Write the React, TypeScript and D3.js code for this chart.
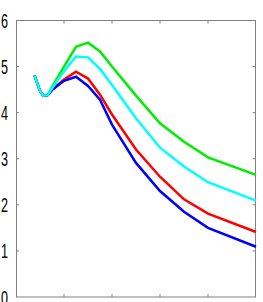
import { useEffect, useRef } from "react";
import * as d3 from "d3";

// x positions shared by all series
const xs = [0.385, 0.5, 0.57, 0.66, 0.75, 1.0, 1.25, 1.5, 1.75, 2.0, 2.5, 3.0, 3.5, 4.0, 5.0];
const green = [4.81, 4.47, 4.37, 4.38, 4.56, 5.0, 5.43, 5.52, 5.33, 5.0, 4.37, 3.77, 3.37, 3.03, 2.65];
const cyan = [4.81, 4.47, 4.37, 4.38, 4.53, 4.9, 5.22, 5.2, 4.95, 4.6, 3.88, 3.24, 2.83, 2.49, 2.09];
const red = [4.81, 4.47, 4.37, 4.38, 4.5, 4.72, 4.89, 4.74, 4.39, 3.96, 3.2, 2.61, 2.12, 1.81, 1.41];
const blue = [4.81, 4.47, 4.37, 4.38, 4.49, 4.69, 4.78, 4.58, 4.28, 3.74, 2.91, 2.3, 1.85, 1.5, 1.09];
const yTicks = [0, 1, 2, 3, 4, 5, 6];
const xTicks = [0, 1, 2, 3, 4, 5];

export default function App() {
    const ref = useRef<SVGSVGElement>(null);

    useEffect(() => {
        const svg = d3.select(ref.current);
        svg.selectAll("*").remove();

        const x = d3.scaleLinear().domain([0, 5]).range([16, 256]);
        const y = d3.scaleLinear().domain([0, 6]).range([297, 20.5]);
        const axisColor = "#808080";

        // box around the plot
        svg.append("rect")
            .attr("x", x(0) + 0.5)
            .attr("y", y(6))
            .attr("width", x(5) - x(0) - 1)
            .attr("height", y(0) - y(6))
            .attr("fill", "none")
            .attr("stroke", axisColor)
            .attr("stroke-width", 1);

        // inward ticks on all four sides
        const tl = 3;
        xTicks.slice(1, -1).forEach(t => {
            svg.append("line").attr("x1", x(t)).attr("x2", x(t))
                .attr("y1", y(0)).attr("y2", y(0) - tl).attr("stroke", axisColor);
            svg.append("line").attr("x1", x(t)).attr("x2", x(t))
                .attr("y1", y(6)).attr("y2", y(6) + tl).attr("stroke", axisColor);
        });
        yTicks.slice(1, -1).forEach(t => {
            svg.append("line").attr("x1", x(0)).attr("x2", x(0) + tl)
                .attr("y1", y(t)).attr("y2", y(t)).attr("stroke", axisColor);
            svg.append("line").attr("x1", x(5) - 0.5).attr("x2", x(5) - 0.5 - tl)
                .attr("y1", y(t)).attr("y2", y(t)).attr("stroke", axisColor);
        });

        // y tick labels (tall, narrow digits)
        yTicks.forEach(t => {
            svg.append("text")
                .attr("transform", `translate(8,${y(t)}) scale(0.6,1)`)
                .attr("text-anchor", "end")
                .attr("dy", "0.36em")
                .style("font-family", "'Liberation Sans Narrow', 'Liberation Sans', sans-serif")
                .style("font-size", "21px")
                .style("fill", "#000")
                .text(t);
        });

        const line = d3.line<number>()
            .x((d, i) => x(xs[i]))
            .y(d => y(d));

        const series: [number[], string][] = [
            [green, "#00ee00"],
            [red, "#ff0000"],
            [blue, "#0000ff"],
            [cyan, "#00ffff"],
        ];
        series.forEach(([vals, color]) => {
            svg.append("path")
                .datum(vals)
                .attr("fill", "none")
                .attr("stroke", color)
                .attr("stroke-width", 2.5)
                .attr("d", line);
        });
    }, []);

    return (
        <svg ref={ref} width={263} height={302}
            style={{ position: "absolute", left: 0, top: 0, background: "#fff" }} />
    );
}
